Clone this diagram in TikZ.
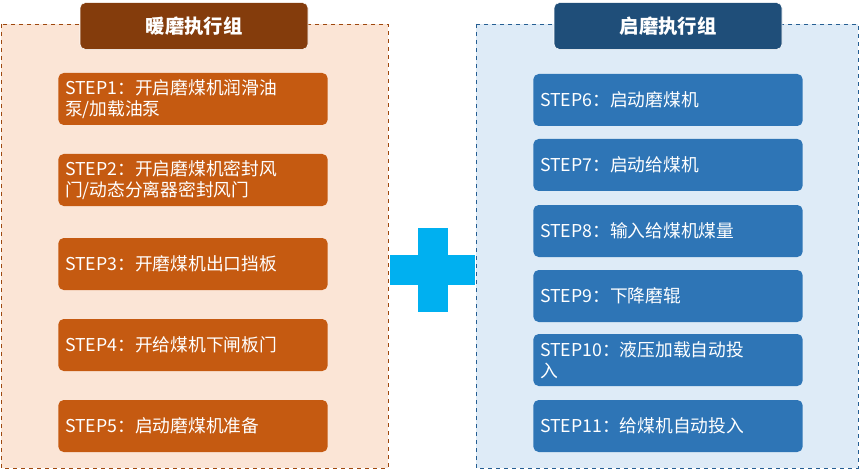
\documentclass[tikz,border=0pt]{standalone}
\usepackage{fontspec}
\setmainfont{Noto Sans CJK SC}
\usetikzlibrary{positioning}
\definecolor{warmbg}{HTML}{FBE5D6}
\definecolor{warmhead}{HTML}{843C0C}
\definecolor{warmstep}{HTML}{C55A11}
\definecolor{coldbg}{HTML}{DEEBF7}
\definecolor{coldhead}{HTML}{1F4E79}
\definecolor{coldstep}{HTML}{2E75B6}
\definecolor{plus}{HTML}{00B0F0}
\tikzset{
panel/.style={
  draw=#1!80!black,
  dashed,
  line width=0.6pt},
head/.style={
  rectangle,
  fill=#1,
  draw=white,
  rounded corners=4pt,
  minimum width=171pt,
  minimum height=35pt,
  text=white,
  font=\fontsize{14.5pt}{17pt}\selectfont\bfseries},
step/.style={
  rectangle,
  fill=#1,
  rounded corners=4pt,
  minimum width=202pt,
  minimum height=39pt,
  text width=192pt,
  align=left,
  inner xsep=5pt,
  text=white,
  font=\fontsize{13.3pt}{15.5pt}\selectfont}
}
\begin{document}
\begin{tikzpicture}[x=0.75pt,y=-0.75pt]
    \useasboundingbox (0,0) rectangle (862,470);
    % panels
    \fill [warmbg] (1,24) rectangle (388,468);
    \draw [panel=warmstep] (1,24) rectangle (388,468);
    \fill [coldbg] (476,24) rectangle (858,468);
    \draw [panel=coldstep] (476,24) rectangle (858,468);
    % plus
    \fill [plus] (390,255) rectangle (475,285);
    \fill [plus] (418,228) rectangle (448,312);
    % warm-up group
    \node [head=warmhead] (warm) at (194,26) {暖磨执行组};
    \node [step=warmstep] (s1) at (193,99) {STEP1：开启磨煤机润滑油\\泵/加载油泵};
    \node [step=warmstep] (s2) at (193,180) {STEP2：开启磨煤机密封风\\门/动态分离器密封风门};
    \node [step=warmstep] (s3) at (193,264) {STEP3：开磨煤机出口挡板};
    \node [step=warmstep] (s4) at (193,345) {STEP4：开给煤机下闸板门};
    \node [step=warmstep] (s5) at (193,426) {STEP5：启动磨煤机准备};
    % start group
    \node [head=coldhead] (cold) at (668,26) {启磨执行组};
    \node [step=coldstep] (s6) at (668,100) {STEP6：启动磨煤机};
    \node [step=coldstep] (s7) at (668,165) {STEP7：启动给煤机};
    \node [step=coldstep] (s8) at (668,231) {STEP8：输入给煤机煤量};
    \node [step=coldstep] (s9) at (668,296) {STEP9：下降磨辊};
    \node [step=coldstep] (s10) at (668,360) {STEP10：液压加载自动投\\入};
    \node [step=coldstep] (s11) at (668,426) {STEP11：给煤机自动投入};
\end{tikzpicture}
\end{document}
